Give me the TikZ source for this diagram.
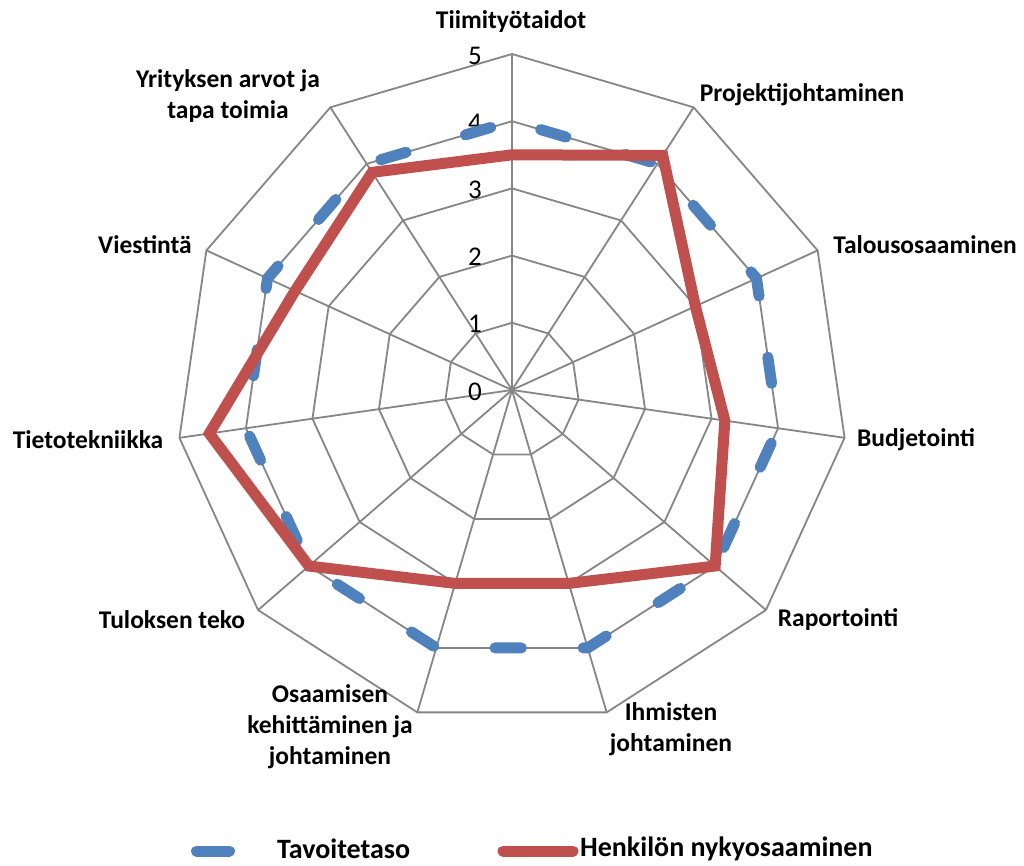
\documentclass[tikz,border=0pt]{standalone}
\usepackage{fontspec}
\setmainfont{Carlito}
\usetikzlibrary{calc}
\definecolor{serieblue}{HTML}{4F81BD}
\definecolor{seriered}{HTML}{C0504D}
\definecolor{gridgray}{HTML}{868686}
\begin{document}
\begin{tikzpicture}[x=1pt,y=-1pt,
  gridline/.style={draw=gridgray,line width=1.8pt},
  target/.style={draw=serieblue,line width=11pt,line cap=round,line join=round,
    dash pattern=on 26.5pt off 61.7pt,dash phase=58.45pt},
  current/.style={draw=seriered,line width=11pt,line join=miter},
  axislabel/.style={font=\bfseries\fontsize{25.5}{31}\selectfont,align=center,inner sep=0pt},
  ticklabel/.style={font=\fontsize{27}{30}\selectfont,inner sep=0pt},
  legendtext/.style={font=\bfseries\fontsize{28}{32}\selectfont,inner sep=0pt}]
\useasboundingbox (0,0) rectangle (1024,866);
\fill[white] (0,0) rectangle (1024,866);

% centre of the radar and the ring points of the 11 axes (67.2 per unit)
\coordinate (c) at (512,390);
\foreach \k in {0,...,10}{
  \foreach \l in {1,...,5}{
    \coordinate (g\l-\k) at ($(c)+(\k*360/11-90:\l*67.2)$);
  }
}

% spokes and rings
\foreach \k in {0,...,10}
  \draw[gridline] (c) -- (g5-\k);
\foreach \l in {1,...,5}
  \draw[gridline] (g\l-0) \foreach \k in {1,...,10}{ -- (g\l-\k)} -- cycle;

% scale values on the top axis
\foreach \l in {0,...,5}
  \node[ticklabel] (t\l) at (475,{390-\l*67.2+1.5}) {\l};

% current level of the person
\foreach \k/\v in {0/3.5,1/4.15,2/3,3/3.2,4/4,5/3,6/3,7/4,8/4.55,9/3.55,10/3.85}
  \coordinate (p\k) at ($(c)+(\k*360/11-90:\v*67.2)$);

% target level (4 on every axis)
\draw[target] (g4-0) \foreach \k in {1,...,10}{ -- (g4-\k)} -- cycle;
\draw[current] (p0) \foreach \k in {1,...,10}{ -- (p\k)} -- cycle;

% axis names
\node[axislabel] (n0) at (511,22) {Tiimityötaidot};
\node[axislabel] (n1) at (802,95) {Projektijohtaminen};
\node[axislabel] (n2) at (925,245) {Talousosaaminen};
\node[axislabel] (n3) at (916,440) {Budjetointi};
\node[axislabel] (n4) at (838,620) {Raportointi};
\node[axislabel] (n5) at (671,729) {Ihmisten\\johtaminen};
\node[axislabel] (n6) at (330,727) {Osaamisen\\kehittäminen ja\\johtaminen};
\node[axislabel] (n7) at (172,620) {Tuloksen teko};
\node[axislabel] (n8) at (88,440) {Tietotekniikka};
\node[axislabel] (n9) at (145,245) {Viestintä};
\node[axislabel] (n10) at (228,96) {Yrityksen arvot ja\\tapa toimia};

% legend
\coordinate (lb1) at (196.5,851);
\coordinate (lb2) at (229.5,851);
\coordinate (lr1) at (503,851);
\coordinate (lr2) at (573,851);
\draw[draw=serieblue,line width=11pt,line cap=round] (lb1) -- (lb2);
\draw[draw=seriered,line width=11pt,line cap=round] (lr1) -- (lr2);
\node[legendtext,anchor=west] (lt1) at (277,849) {Tavoitetaso};
\node[legendtext,anchor=west] (lt2) at (580,849) {Henkilön nykyosaaminen};
\end{tikzpicture}
\end{document}
